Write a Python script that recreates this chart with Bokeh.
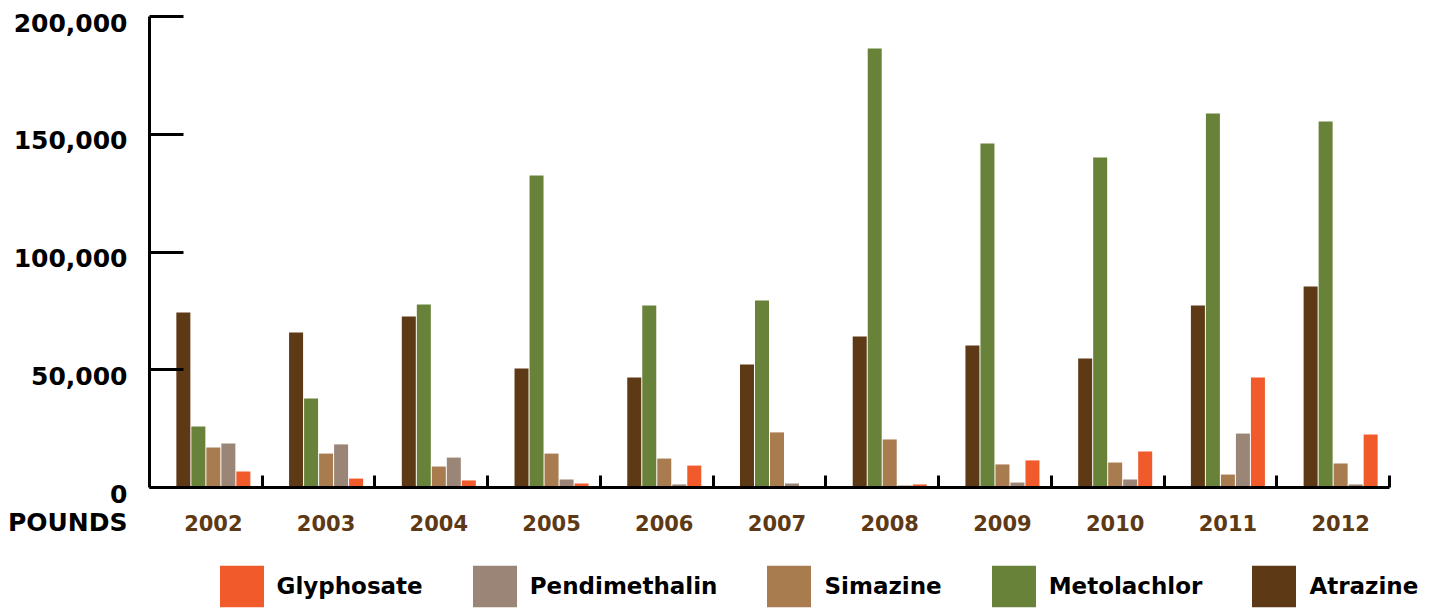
from bokeh.plotting import figure
from bokeh.models import (ColumnDataSource, FixedTicker, LabelSet, Label, Legend,
                          LegendItem, Range1d, LinearAxis)
from bokeh.core.properties import value
from bokeh.transform import dodge
from bokeh.embed import file_html
from bokeh.resources import INLINE

years = [2002, 2003, 2004, 2005, 2006, 2007, 2008, 2009, 2010, 2011, 2012]
atrazine = [74300, 65800, 72600, 50500, 46700, 52200, 64100, 60300, 54800, 77300, 85300]
metolachlor = [25900, 37800, 77700, 132500, 77300, 79400, 186400, 146100, 140100, 158800, 155400]
simazine = [17000, 14400, 8900, 14400, 12300, 23400, 20400, 9800, 10600, 5500, 10200]
pendimethalin = [18700, 18300, 12700, 3400, 1300, 1700, 850, 2100, 3400, 22900, 1300]
glyphosate = [6800, 3800, 3000, 1700, 9300, 600, 1300, 11500, 15300, 46700, 22500]

series_names = ["Atrazine", "Metolachlor", "Simazine", "Pendimethalin", "Glyphosate"]
series_keys = ["atrazine", "metolachlor", "simazine", "pendimethalin", "glyphosate"]
series_colors = ["#5e3915", "#68823a", "#a97c50", "#9b8576", "#f15a2b"]
legend_order = ["Glyphosate", "Pendimethalin", "Simazine", "Metolachlor", "Atrazine"]

y_ticks = [0, 50000, 100000, 150000, 200000]
y_max = 200000

FONT = "DejaVu Sans"
W, H = 1435, 609
N = len(years)
shift = 0.0665
step = 0.1331
bar_w = 0.1242

# pixel geometry of the plotting area (canvas coords)
AX_LEFT, AX_RIGHT, AX_TOP, AX_BASE = 149, 1389, 16, 487
x_start = -0.5 - shift
x_end = N - 0.5 - shift
ppx = (AX_RIGHT - AX_LEFT) / (x_end - x_start)
ppy = (AX_BASE - AX_TOP) / y_max

src = ColumnDataSource(dict(
    x=list(range(N)), atrazine=atrazine, metolachlor=metolachlor, simazine=simazine,
    pendimethalin=pendimethalin, glyphosate=glyphosate))

p = figure(width=W, height=H,
           x_range=Range1d(x_start - AX_LEFT / ppx, x_start + (W - AX_LEFT) / ppx),
           y_range=Range1d(-(H - AX_BASE) / ppy, AX_BASE / ppy),
           x_axis_type=None, y_axis_type=None,
           output_backend="svg", toolbar_location=None,
           min_border_left=0, min_border_right=0, min_border_top=0, min_border_bottom=0)
p.outline_line_color = None
p.background_fill_color = "white"

renderers = {}
for j, (key, name, col) in enumerate(zip(series_keys, series_names, series_colors)):
    r = p.vbar(x=dodge("x", (j - 2) * step), top=key, width=bar_w, source=src,
               fill_color=col, line_color=None)
    renderers[name] = r

# y axis (fixed at left edge of first group)
yax = LinearAxis(fixed_location=x_start, bounds=(0, y_max),
                 ticker=FixedTicker(ticks=y_ticks, minor_ticks=[]))
yax.major_label_overrides = {t: "" for t in y_ticks}
yax.major_label_standoff = 0
yax.major_tick_in = 34
yax.major_tick_out = 0
yax.minor_tick_line_color = None
yax.axis_line_width = 3
yax.major_tick_line_width = 3
yax.axis_line_color = "black"
yax.major_tick_line_color = "black"
p.add_layout(yax, "left")

# x axis (baseline) with group separators
xax = LinearAxis(fixed_location=0, bounds=(x_start, x_end),
                 ticker=FixedTicker(ticks=[], minor_ticks=[i + 0.5 - shift for i in range(N)]))
xax.major_label_standoff = 0
xax.major_tick_line_color = None
xax.minor_tick_in = 12
xax.minor_tick_out = 0
xax.minor_tick_line_width = 3
xax.minor_tick_line_color = "black"
xax.axis_line_width = 3
xax.axis_line_color = "black"
p.add_layout(xax, "below")

# y tick labels
lab_src = ColumnDataSource(dict(x=[x_start] * len(y_ticks), y=y_ticks,
                                t=[f"{v:,}" for v in y_ticks]))
p.add_layout(LabelSet(x="x", y="y", text="t", source=lab_src, x_offset=-22, y_offset=-6,
                      text_align="right", text_baseline="middle", text_font=value(FONT),
                      text_font_style="bold", text_font_size="25px", text_color="black"))
p.add_layout(Label(x=x_start, y=0, x_offset=-22, y_offset=-35, text="POUNDS",
                   text_align="right", text_baseline="middle", text_font=FONT,
                   text_font_style="bold", text_font_size="25px", text_color="black"))

# year labels
yr_src = ColumnDataSource(dict(x=list(range(N)), y=[0] * N, t=[str(y) for y in years]))
p.add_layout(LabelSet(x="x", y="y", text="t", source=yr_src, y_offset=-35,
                      text_align="center", text_baseline="middle", text_font=value(FONT),
                      text_font_style="bold", text_font_size="21px", text_color="#5e3915"))

legend = Legend(items=[LegendItem(label=n, renderers=[renderers[n]]) for n in legend_order],
                orientation="horizontal", location=(213.5, -3),
                glyph_width=55, glyph_height=52, label_height=52, label_standoff=8,
                spacing=44, padding=0, margin=0, border_line_color=None,
                background_fill_alpha=0, label_text_font=FONT,
                label_text_font_style="bold", label_text_font_size="23px",
                label_text_color="black")
p.add_layout(legend)

open("out.html", "w").write(file_html(p, INLINE))
